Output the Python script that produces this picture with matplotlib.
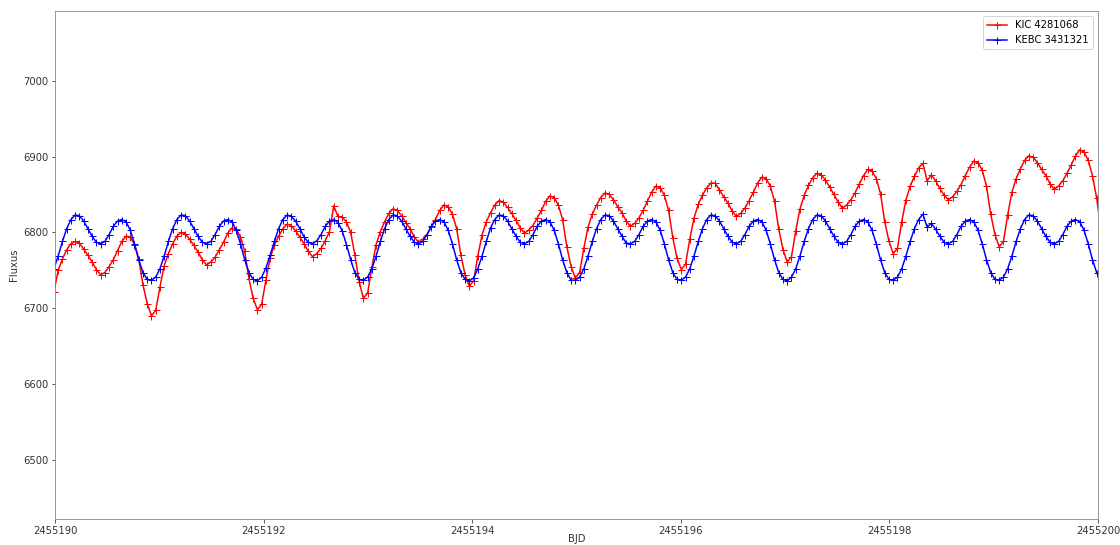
import numpy as np
import matplotlib
matplotlib.use("Agg")
import matplotlib.pyplot as plt

# time grid: start BJD and sampling step (days), one value per sample below
bjd_start = 2455189.990
step = 0.04064

# KIC 4281068 flux
kic_flux = [
    6722, 6750, 6765, 6777, 6785, 6788, 6786, 6778, 6770, 6761, 6751, 6744, 6747, 6755, 6764, 6776, 6788, 6795, 6794, 6784, 6765, 6731, 6706,
    6690, 6697, 6728, 6756, 6772, 6785, 6795, 6800, 6798, 6791, 6783, 6774, 6764, 6757, 6761, 6767, 6777, 6787, 6799, 6806, 6804, 6794, 6775, 6739, 6713,
    6698, 6705, 6737, 6766, 6783, 6795, 6805, 6811, 6809, 6802, 6794, 6785, 6775, 6768, 6772, 6779, 6789, 6801, 6835, 6821, 6820, 6814, 6800, 6770, 6735,
    6713, 6720, 6754, 6784, 6801, 6814, 6825, 6831, 6829, 6822, 6813, 6805, 6794, 6787, 6791, 6797, 6807, 6817, 6829, 6836, 6834, 6824, 6805, 6770, 6744,
    6729, 6736, 6769, 6797, 6814, 6826, 6836, 6842, 6840, 6833, 6825, 6816, 6806, 6799, 6803, 6809, 6819, 6829, 6841, 6848, 6846, 6836, 6817, 6781, 6755,
    6740, 6747, 6779, 6807, 6824, 6836, 6846, 6852, 6850, 6843, 6834, 6826, 6815, 6808, 6812, 6819, 6829, 6841, 6853, 6861, 6859, 6849, 6829, 6793, 6766,
    6751, 6758, 6791, 6819, 6837, 6849, 6859, 6865, 6865, 6856, 6847, 6839, 6828, 6821, 6825, 6832, 6842, 6853, 6865, 6873, 6871, 6861, 6841, 6804, 6777,
    6761, 6768, 6802, 6831, 6849, 6862, 6872, 6878, 6876, 6869, 6860, 6850, 6840, 6832, 6836, 6843, 6852, 6864, 6875, 6883, 6881, 6871, 6851, 6814, 6788,
    6772, 6779, 6814, 6843, 6861, 6874, 6885, 6891, 6868, 6876, 6868, 6858, 6849, 6843, 6847, 6854, 6863, 6875, 6886, 6894, 6892, 6882, 6861, 6824, 6797,
    6781, 6788, 6823, 6853, 6871, 6884, 6895, 6901, 6899, 6892, 6883, 6875, 6864, 6857, 6861, 6868, 6878, 6889, 6901, 6909, 6906, 6895, 6875, 6845, 6805,
]

# KEBC 3431321 flux
kebc_flux = [
    6752, 6769, 6788, 6805, 6817, 6823, 6822, 6815, 6805, 6795, 6787, 6785, 6788, 6797, 6808, 6815, 6817, 6814, 6803, 6785, 6764, 6747, 6738,
    6737, 6741, 6752, 6769, 6788, 6805, 6817, 6823, 6822, 6815, 6805, 6795, 6787, 6785, 6788, 6797, 6808, 6815, 6817, 6814, 6803, 6785, 6764, 6747, 6738,
    6736, 6741, 6753, 6770, 6788, 6805, 6817, 6823, 6821, 6815, 6805, 6794, 6787, 6785, 6789, 6797, 6808, 6815, 6817, 6813, 6802, 6784, 6764, 6747, 6738,
    6737, 6741, 6752, 6769, 6788, 6805, 6817, 6823, 6822, 6815, 6805, 6795, 6787, 6785, 6788, 6797, 6808, 6815, 6817, 6814, 6803, 6785, 6764, 6747, 6738,
    6736, 6740, 6752, 6769, 6788, 6806, 6817, 6823, 6822, 6815, 6805, 6795, 6787, 6785, 6788, 6797, 6808, 6815, 6817, 6814, 6803, 6785, 6764, 6747, 6737,
    6737, 6741, 6752, 6769, 6788, 6805, 6817, 6823, 6822, 6815, 6805, 6795, 6786, 6785, 6788, 6797, 6808, 6815, 6817, 6814, 6803, 6785, 6764, 6747, 6738,
    6737, 6741, 6752, 6769, 6788, 6805, 6817, 6823, 6822, 6815, 6805, 6795, 6787, 6785, 6788, 6797, 6808, 6815, 6817, 6814, 6803, 6785, 6764, 6747, 6738,
    6736, 6741, 6752, 6769, 6788, 6805, 6817, 6823, 6822, 6815, 6805, 6795, 6787, 6785, 6788, 6797, 6808, 6815, 6817, 6814, 6803, 6785, 6764, 6747, 6738,
    6737, 6741, 6752, 6769, 6788, 6805, 6817, 6824, 6807, 6812, 6804, 6795, 6787, 6785, 6788, 6797, 6808, 6815, 6817, 6814, 6803, 6785, 6764, 6747, 6738,
    6737, 6741, 6752, 6769, 6788, 6805, 6817, 6823, 6822, 6815, 6805, 6795, 6787, 6785, 6788, 6797, 6808, 6815, 6817, 6814, 6803, 6785, 6764, 6747, 6738,
]

bjd = bjd_start + step * np.arange(len(kic_flux))

fig = plt.figure(figsize=(1120 / 72, 545 / 72), dpi=72)
ax = fig.add_axes([55 / 1120, 26 / 545, 1043 / 1120, 508 / 545])

ax.plot(bjd, kic_flux, color='r', marker='+', markersize=7, linewidth=1.5, label="KIC 4281068")
ax.plot(bjd, kebc_flux, color='b', marker='+', markersize=7, linewidth=1.5, label="KEBC 3431321")

ax.set_xlim(2455190, 2455200)
ax.set_ylim(6422, 7092)
ax.set_xticks(np.arange(2455190, 2455201, 2))
ax.set_yticks(np.arange(6500, 7001, 100))
ax.ticklabel_format(useOffset=False, style='plain')
ax.set_xlabel("BJD", color='#333333', labelpad=-2)
ax.set_ylabel("Fluxus", color='#333333')
ax.tick_params(colors='#333333', labelcolor='#333333')
for s in ax.spines.values():
    s.set_color('#808080')
ax.legend(loc="upper right")

fig.savefig("out.png", dpi=72)
